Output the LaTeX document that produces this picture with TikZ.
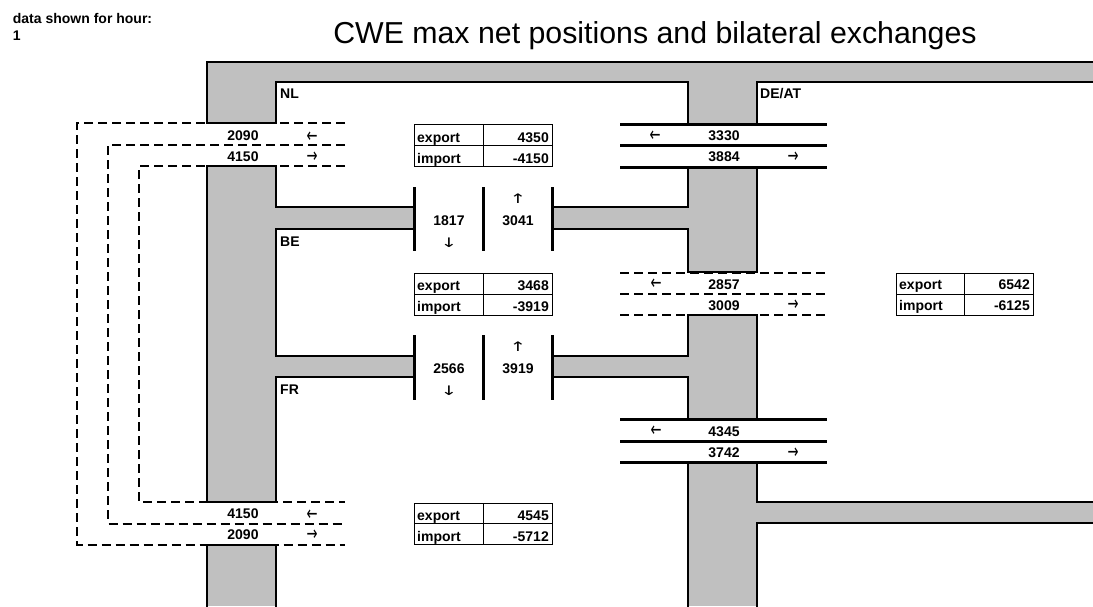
\documentclass[tikz,border=0pt]{standalone}
\usepackage{fontspec}
\usepackage{graphicx}
\setmainfont{Liberation Sans}
\newfontfamily\arrfont{DejaVu Sans}
\newcommand{\harr}[1]{\scalebox{1.05}[1.6]{#1}}
\newcommand{\varr}[1]{\scalebox{1.6}[1.05]{#1}}
\definecolor{zone}{HTML}{C0C0C0}
\begin{document}
\begin{tikzpicture}[x=1pt,y=-1pt,
  gfill/.style={fill=zone},
  edge/.style={line width=2pt, line join=miter, line cap=rect},
  xline/.style={line width=3pt},
  dline/.style={line width=2pt, dash pattern=on 9pt off 5pt},
  barline/.style={line width=3pt},
  tline/.style={line width=1pt},
  lbl/.style={font=\fontsize{14}{16}\selectfont\bfseries, inner sep=0pt, anchor=base},
  lblw/.style={lbl, anchor=base west},
  lble/.style={lbl, anchor=base east},
  arr/.style={font=\arrfont\fontsize{12.5}{16}\selectfont, inner sep=0pt, anchor=center}
]
\useasboundingbox (0,0) rectangle (1093,606);

% gray zones
\fill[gfill] (207,62) rectangle (1093,82);
\fill[gfill] (207,82) rectangle (276,123);
\fill[gfill] (688,82) rectangle (757,124);
\fill[gfill] (207,166) rectangle (276,502);
\fill[gfill] (276,207) rectangle (414,229);
\fill[gfill] (276,356) rectangle (414,377);
\fill[gfill] (552,207) rectangle (688,229);
\fill[gfill] (552,356) rectangle (688,377);
\fill[gfill] (688,167) rectangle (757,272);
\fill[gfill] (688,315) rectangle (757,419);
\fill[gfill] (688,462) rectangle (757,606);
\fill[gfill] (757,502) rectangle (1093,523);
\fill[gfill] (207,545) rectangle (276,606);

% zone edges
\draw[edge] (207,123) -- (207,62) -- (1094,62);
\draw[edge] (207,123) -- (276,123);
\draw[edge] (276,123) -- (276,82) -- (688,82) -- (688,124);
\draw[edge] (757,124) -- (757,82) -- (1094,82);
\draw[edge] (207,166) -- (276,166);
\draw[edge] (207,166) -- (207,502) -- (276,502);
\draw[edge] (276,166) -- (276,207) -- (414,207);
\draw[edge] (414,229) -- (276,229) -- (276,356) -- (414,356);
\draw[edge] (414,377) -- (276,377) -- (276,502);
\draw[edge] (688,167) -- (688,207) -- (552,207);
\draw[edge] (552,229) -- (688,229) -- (688,272) -- (757,272) -- (757,167);
\draw[edge] (757,419) -- (757,315) -- (688,315) -- (688,356) -- (552,356);
\draw[edge] (552,377) -- (688,377) -- (688,419);
\draw[edge] (688,607) -- (688,462);
\draw[edge] (757,462) -- (757,502) -- (1094,502);
\draw[edge] (1094,523) -- (757,523) -- (757,607);
\draw[edge] (207,607) -- (207,545) -- (276,545) -- (276,607);

% DE/AT crossings
\draw[xline] (620,124) -- (827,124);
\draw[xline] (620,145.5) -- (827,145.5);
\draw[xline] (620,167) -- (827,167);
\draw[dline] (620,272.5) -- (828,272.5);
\draw[dline] (620,293.5) -- (828,293.5);
\draw[dline] (620,314.5) -- (828,314.5);
\draw[xline] (620,419.5) -- (827,419.5);
\draw[xline] (620,441) -- (827,441);
\draw[xline] (620,462) -- (827,462);

% NL-FR dashed loops
\draw[dline] (345,123) -- (77,123) -- (77,544.5) -- (345,544.5);
\draw[dline] (345,145) -- (108,145) -- (108,523.5) -- (345,523.5);
\draw[dline] (345,166) -- (139,166) -- (139,502) -- (345,502);

% bars
\foreach \bx in {414,483,552} {
  \draw[barline] (\bx,187) -- (\bx,251);
  \draw[barline] (\bx,335) -- (\bx,400);
}

% tables
\draw[tline] (414,124.5) rectangle (552,166.5);
\draw[tline] (414,145.5) -- (552,145.5);
\draw[tline] (483,124.5) -- (483,166.5);
\draw[tline] (414,273) rectangle (552,315.5);
\draw[tline] (414,294) -- (552,294);
\draw[tline] (483,273) -- (483,315.5);
\draw[tline] (896,273) rectangle (1033,315.5);
\draw[tline] (896,294) -- (1033,294);
\draw[tline] (964,273) -- (964,315.5);
\draw[tline] (414,503) rectangle (552,544.5);
\draw[tline] (414,523.7) -- (552,523.7);
\draw[tline] (483,503) -- (483,544.5);

% header and title
\node[lblw] (hdr) at (12.7,23.3) {data shown for hour:};
\node[lblw] (hour) at (12.7,40) {1};
\node[font=\fontsize{30.3}{36}\selectfont, inner sep=0pt, anchor=base] (title) at (655,43.5) {CWE max net positions and bilateral exchanges};

% zone names
\node[lblw] (nl) at (280,98.5) {NL};
\node[lblw] (be) at (280,246) {BE};
\node[lblw] (fr) at (280,394.5) {FR};
\node[lblw] (de) at (760,98.5) {DE/AT};

% NL-FR
\node[lbl] (a1) at (243,140.5) {2090};
\node[arr] (a1a) at (312,137) {\harr{←}};
\node[lbl] (a2) at (243,161) {4150};
\node[arr] (a2a) at (312,157) {\harr{→}};
\node[lbl] (b1) at (243,518) {4150};
\node[arr] (b1a) at (312,515) {\harr{←}};
\node[lbl] (b2) at (243,539) {2090};
\node[arr] (b2a) at (312,535) {\harr{→}};

% NL-DE
\node[arr] (c1a) at (655,136) {\harr{←}};
\node[lbl] (c1) at (724,140) {3330};
\node[lbl] (c2) at (724,161.5) {3884};
\node[arr] (c2a) at (793,157) {\harr{→}};
% BE-DE
\node[arr] (d1a) at (656,284) {\harr{←}};
\node[lbl] (d1) at (724,289) {2857};
\node[lbl] (d2) at (724,310) {3009};
\node[arr] (d2a) at (793,305) {\harr{→}};
% FR-DE
\node[arr] (e1a) at (656,431) {\harr{←}};
\node[lbl] (e1) at (724,436) {4345};
\node[lbl] (e2) at (724,457) {3742};
\node[arr] (e2a) at (793,453) {\harr{→}};

% NL-BE
\node[lbl] (f1) at (449,225) {1817};
\node[arr] (f1a) at (449,243) {\varr{↓}};
\node[arr] (f2a) at (518,199) {\varr{↑}};
\node[lbl] (f2) at (518,225) {3041};
% BE-FR
\node[lbl] (g1) at (449,373) {2566};
\node[arr] (g1a) at (449,391) {\varr{↓}};
\node[arr] (g2a) at (518,347) {\varr{↑}};
\node[lbl] (g2) at (518,373) {3919};

% table texts
\node[lblw] (t1e) at (417,142) {export};
\node[lble] (t1ev) at (549,142) {4350};
\node[lblw] (t1i) at (417,163) {import};
\node[lble] (t1iv) at (549,163) {-4150};
\node[lblw] (t2e) at (417,290) {export};
\node[lble] (t2ev) at (549,290) {3468};
\node[lblw] (t2i) at (417,311) {import};
\node[lble] (t2iv) at (549,311) {-3919};
\node[lblw] (t3e) at (899,289.5) {export};
\node[lble] (t3ev) at (1030,289.5) {6542};
\node[lblw] (t3i) at (899,310.5) {import};
\node[lble] (t3iv) at (1030,310.5) {-6125};
\node[lblw] (t4e) at (417,520.5) {export};
\node[lble] (t4ev) at (549,520.5) {4545};
\node[lblw] (t4i) at (417,541) {import};
\node[lble] (t4iv) at (549,541) {-5712};
\end{tikzpicture}
\end{document}
